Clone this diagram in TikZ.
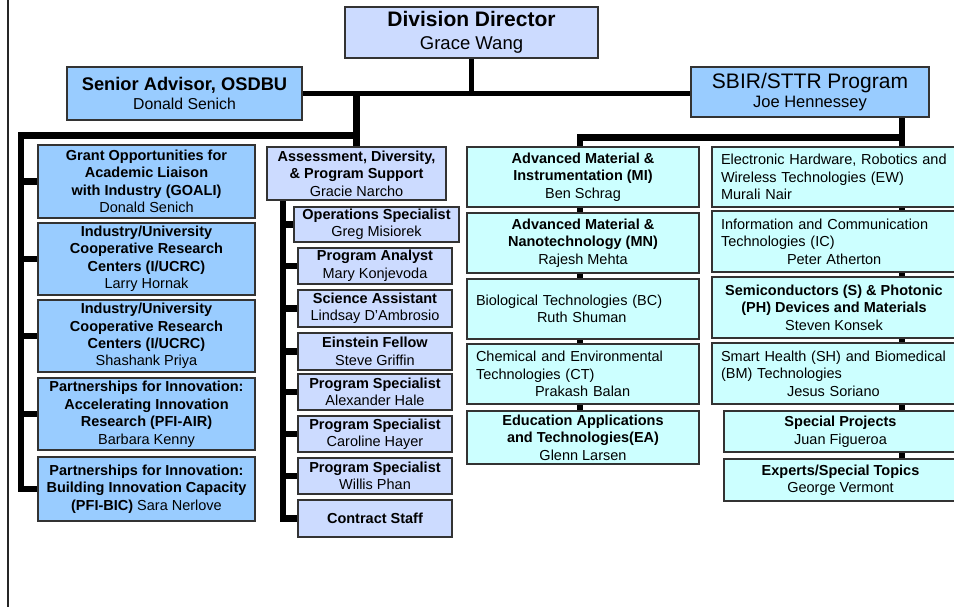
\documentclass[tikz,border=0pt]{standalone}
\usepackage{fontspec}
\setmainfont{Liberation Sans}
\usetikzlibrary{backgrounds}
\definecolor{cblue}{RGB}{153,204,255}
\definecolor{clav}{RGB}{204,219,255}
\definecolor{ccyan}{RGB}{204,255,255}
\begin{document}
\begin{tikzpicture}[x=1pt,y=-1pt,
  box/.style={draw=black!80, line width=1.1pt, inner xsep=2pt, inner ysep=0pt,
    align=center, font=\fontsize{14.5}{17.5}\selectfont},
  lbox/.style={box, align=left, inner xsep=9pt},
  bluebox/.style={box, fill=cblue},
  lavbox/.style={box, fill=clav},
  cyanbox/.style={box, fill=ccyan},
  bus/.style={line width=6.5pt, black, line join=miter},
  topbus/.style={line width=5pt, black}]
\useasboundingbox (0,0) rectangle (954,607);
\clip (0,0) rectangle (954,607);
\draw[line width=1.6pt, black!85] (8,0) -- (8,607);

% top level
\node[lavbox, minimum width=253, minimum height=51, font=\fontsize{18.5}{22.5}\selectfont]
  (DD) at (471.5,32.5) {{\fontsize{21}{22.5}\selectfont\bfseries Division Director}\\Grace Wang};
\node[bluebox, minimum width=235, minimum height=53, font=\fontsize{15.8}{19.5}\selectfont]
  (SA) at (184.5,93.5) {{\fontsize{18.3}{19.5}\selectfont\bfseries Senior Advisor, OSDBU}\\Donald Senich};
\node[bluebox, minimum width=238, minimum height=50, font=\fontsize{16.5}{18.5}\selectfont]
  (SBIR) at (810,92) {{\fontsize{21}{18.5}\selectfont SBIR/STTR Program}\\Joe Hennessey};

% left column
\node[bluebox, minimum width=217, minimum height=73] (GOALI) at (146.5,181.5)
  {\textbf{Grant Opportunities for}\\\textbf{Academic Liaison}\\\textbf{with Industry (GOALI)}\\Donald Senich};
\node[bluebox, minimum width=217, minimum height=72] (UC1) at (146.5,259)
  {\textbf{Industry/University}\\\textbf{Cooperative Research}\\\textbf{Centers (I/UCRC)}\\Larry Hornak};
\node[bluebox, minimum width=217, minimum height=72] (UC2) at (146.5,336)
  {\textbf{Industry/University}\\\textbf{Cooperative Research}\\\textbf{Centers (I/UCRC)}\\Shashank Priya};
\node[bluebox, minimum width=217, minimum height=72] (AIR) at (146.5,414)
  {\textbf{Partnerships for Innovation:}\\\textbf{Accelerating Innovation}\\\textbf{Research (PFI-AIR)}\\Barbara Kenny};
\node[bluebox, minimum width=217, minimum height=64] (BIC) at (146.5,489)
  {\textbf{Partnerships for Innovation:}\\\textbf{Building Innovation Capacity}\\\textbf{(PFI-BIC)} Sara Nerlove};

% middle column
\node[lavbox, minimum width=179, minimum height=53] (ADP) at (356.5,173.5)
  {\textbf{Assessment, Diversity,}\\\textbf{\& Program Support}\\Gracie Narcho};
\node[lavbox, minimum width=165, minimum height=35] (OPS) at (376.5,224.5)
  {\textbf{Operations Specialist}\\Greg Misiorek};
\node[lavbox, minimum width=154, minimum height=36] (PA) at (375,266)
  {\textbf{Program Analyst}\\Mary Konjevoda};
\node[lavbox, minimum width=154, minimum height=37] (SCI) at (375,308.5)
  {\textbf{Science Assistant}\\Lindsay D’Ambrosio};
\node[lavbox, minimum width=154, minimum height=37] (EF) at (375,351.5)
  {\textbf{Einstein Fellow}\\Steve Griffin};
\node[lavbox, minimum width=154, minimum height=36] (PS1) at (375,392)
  {\textbf{Program Specialist}\\Alexander Hale};
\node[lavbox, minimum width=154, minimum height=36] (PS2) at (375,434)
  {\textbf{Program Specialist}\\Caroline Hayer};
\node[lavbox, minimum width=154, minimum height=36] (PS3) at (375,476)
  {\textbf{Program Specialist}\\Willis Phan};
\node[lavbox, minimum width=154, minimum height=37] (CS) at (375,518.5)
  {\textbf{Contract Staff}};

% SBIR left column
\node[cyanbox, minimum width=232, minimum height=60] (MI) at (583,177)
  {\textbf{Advanced Material \&}\\\textbf{Instrumentation (MI)}\\Ben Schrag};
\node[cyanbox, minimum width=232, minimum height=60] (MN) at (583,243)
  {\textbf{Advanced Material \&}\\\textbf{Nanotechnology (MN)}\\Rajesh Mehta};
\node[cyanbox, lbox, text width=214, minimum height=60] (BC) at (583,309)
  {Biological Technologies (BC)\\\hspace*{61pt}Ruth Shuman};
\node[cyanbox, lbox, text width=214, minimum height=60] (CT) at (583,374)
  {Chemical and Environmental\\Technologies (CT)\\\hspace*{59pt}Prakash Balan};
\node[cyanbox, minimum width=232, minimum height=53] (EA) at (583,437.5)
  {\textbf{Education Applications}\\\textbf{and Technologies(EA)}\\Glenn Larsen};

% SBIR right column
\node[cyanbox, lbox, text width=230, minimum height=60] (EW) at (836,177)
  {Electronic Hardware, Robotics and\\Wireless Technologies (EW)\\Murali Nair};
\node[cyanbox, lbox, text width=230, minimum height=61] (IC) at (836,241.5)
  {Information and Communication\\Technologies (IC)\\\hspace*{66pt}Peter Atherton};
\node[cyanbox, minimum width=244, minimum height=61] (SPH) at (834,307.5)
  {\textbf{Semiconductors (S) \& Photonic}\\\textbf{(PH) Devices and Materials}\\Steven Konsek};
\node[cyanbox, lbox, text width=230, minimum height=61] (SH) at (836,373.5)
  {Smart Health (SH) and Biomedical\\(BM) Technologies\\\hspace*{66pt}Jesus Soriano};
\node[cyanbox, minimum width=233, minimum height=41] (SP) at (840.5,431.5)
  {\textbf{Special Projects}\\Juan Figueroa};
\node[cyanbox, minimum width=233, minimum height=42] (EX) at (840.5,480)
  {\textbf{Experts/Special Topics}\\George Vermont};

\coordinate (lb) at (21,135.5);
\coordinate (mb) at (283,200);
\coordinate (sb) at (902,137.5);
\coordinate (sm) at (580,137.5);

\begin{pgfonlayer}{background}
  \fill[white] (0,0) rectangle (954,607);
  \draw[topbus] (DD.south) -- (DD.south |- SA.east);
  \draw[topbus] (SA.east) -- (SA.east -| SBIR.west);
  \draw[bus] (ADP.north |- SA.east) -- (ADP.north);
  \draw[bus] (ADP.north |- lb) -- (lb) |- (BIC.west);
  \foreach \n in {GOALI,UC1,UC2,AIR}
    \draw[bus] (lb |- \n.west) -- (\n.west);
  \draw[bus] (mb) |- (CS.west);
  \foreach \n in {OPS,PA,SCI,EF,PS1,PS2,PS3}
    \draw[bus] (mb |- \n.west) -- (\n.west);
  \draw[bus] (sb |- SBIR.south) -- (sb |- EW.north);
  \draw[bus] (sb) -- (sm) -- (sm |- MI.north);
  \foreach \a/\b in {MI/MN,MN/BC,BC/CT,CT/EA}
    \draw[bus] (sm |- \a.south) -- (sm |- \b.north);
  \foreach \a/\b in {EW/IC,IC/SPH,SPH/SH,SH/SP,SP/EX}
    \draw[bus] (sb |- \a.south) -- (sb |- \b.north);
\end{pgfonlayer}
\end{tikzpicture}
\end{document}
